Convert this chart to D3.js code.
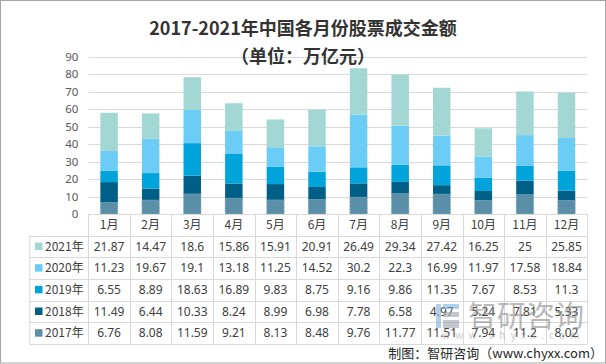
<!DOCTYPE html>
<html>
<head>
<meta charset="utf-8">
<script src="https://cdn.jsdelivr.net/npm/d3@7"></script>
<style>
	body { margin: 0; background: #fff; }
	svg { display: block; font-family: "Noto Sans CJK SC", "Noto Sans", sans-serif; }
</style>
</head>
<body>
<div id="chart"></div>
<script>
///////////////////////////////////////////////////////////////////////////
///////////////////// Initiate global variables ///////////////////////////
///////////////////////////////////////////////////////////////////////////

var width = 606,
	height = 364,
	margin = {left: 88.3, right: 18.7, top: 56.7, bottom: 150};

//Months along the x axis
var months = ["1月","2月","3月","4月","5月","6月","7月","8月","9月","10月","11月","12月"];

//Series per year (万亿元)
var years = ["2021年", "2020年", "2019年", "2018年", "2017年"];
var values2021 = [21.87, 14.47, 18.6, 15.86, 15.91, 20.91, 26.49, 29.34, 27.42, 16.25, 25, 25.85],
	values2020 = [11.23, 19.67, 19.1, 13.18, 11.25, 14.52, 30.2, 22.3, 16.99, 11.97, 17.58, 18.84],
	values2019 = [6.55, 8.89, 18.63, 16.89, 9.83, 8.75, 9.16, 9.86, 11.35, 7.67, 8.53, 11.3],
	values2018 = [11.49, 6.44, 10.33, 8.24, 8.99, 6.98, 7.78, 6.58, 4.97, 5.24, 7.81, 5.33],
	values2017 = [6.76, 8.08, 11.59, 9.21, 8.13, 8.48, 9.76, 11.77, 11.51, 7.94, 11.2, 8.02];
var yTicks = [0, 10, 20, 30, 40, 50, 60, 70, 80, 90];

var yearColors = {"2021年": "#A2D7D4", "2020年": "#6BCDF5", "2019年": "#00A3DA", "2018年": "#005F86", "2017年": "#5B8FA8"};

//Rows of the table are 2021 -> 2017, stacking goes bottom up 2017 -> 2021
var seriesByYear = {"2021年": values2021, "2020年": values2020, "2019年": values2019, "2018年": values2018, "2017年": values2017};
var stackOrder = years.slice().reverse();

var tableData = months.map(function(m, i) {
	var row = {month: m};
	years.forEach(function(y) { row[y] = seriesByYear[y][i]; });
	return row;
});

var svg = d3.select("#chart").append("svg")
	.attr("width", width)
	.attr("height", height);

//Outer frame
svg.append("rect")
	.attr("x", 0.5).attr("y", 0.5)
	.attr("width", width - 1).attr("height", height - 1.5)
	.style("fill", "none")
	.style("stroke", "#A6A6A6");

///////////////////////////////////////////////////////////////////////////
///////////////////////////// Scales and grid /////////////////////////////
///////////////////////////////////////////////////////////////////////////

var plotBottom = 214,
	plotRight = width - margin.right;

var x = d3.scaleBand()
	.domain(months)
	.range([margin.left, plotRight])
	.paddingInner(0.58)
	.paddingOuter(0.29);

var y = d3.scaleLinear()
	.domain([0, 90])
	.range([plotBottom, margin.top]);

//Gridlines
svg.append("g")
	.attr("class", "grid")
	.selectAll("line")
	.data(yTicks)
	.enter().append("line")
	.attr("x1", margin.left)
	.attr("x2", plotRight)
	.attr("y1", function(d) { return Math.round(y(d)) + 0.5; })
	.attr("y2", function(d) { return Math.round(y(d)) + 0.5; })
	.style("stroke", "#D9D9D9")
	.style("stroke-width", 1);

//Y axis labels
var yAxis = svg.append("g")
	.attr("transform", "translate(" + (margin.left - 10) + ",0)")
	.call(d3.axisLeft(y).tickValues(yTicks).tickSize(0).tickPadding(0));
yAxis.select(".domain").remove();
yAxis.selectAll("text")
	.style("font-family", "'Noto Sans', sans-serif")
	.style("font-size", "11.5px")
	.attr("fill", "#595959");

///////////////////////////////////////////////////////////////////////////
/////////////////////////////// Stacked bars //////////////////////////////
///////////////////////////////////////////////////////////////////////////

var stacked = d3.stack().keys(stackOrder)(tableData);

var layers = svg.append("g")
	.selectAll(".layer")
	.data(stacked)
	.enter().append("g")
	.attr("class", "layer")
	.style("fill", function(d) { return yearColors[d.key]; });

layers.selectAll("rect")
	.data(function(d) { return d.map(function(v) { return {key: d.key, v: v}; }); })
	.enter().append("rect")
	.attr("x", function(d) { return x(d.v.data.month); })
	.attr("width", x.bandwidth())
	.attr("y", function(d) { return y(d.v[1]); })
	.attr("height", function(d) { return y(d.v[0]) - y(d.v[1]); })
	.style("stroke", function(d) { return d.key === "2017年" ? "#86AFC4" : "none"; })
	.style("stroke-width", 0.8)
	.style("stroke-dasharray", "2,1.5");

///////////////////////////////////////////////////////////////////////////
////////////////////////////// Data table /////////////////////////////////
///////////////////////////////////////////////////////////////////////////

var rowH = 21.67,
	tableLeft = 29.3,
	tableTop = plotBottom,
	tableBottom = tableTop + rowH * (years.length + 1),
	step = x.step();

var table = svg.append("g").attr("class", "table");

//Horizontal lines
table.append("line")
	.attr("x1", margin.left).attr("x2", plotRight)
	.attr("y1", tableTop + 0.5).attr("y2", tableTop + 0.5)
	.style("stroke", "#D9D9D9");
table.selectAll(".hline")
	.data(d3.range(1, years.length + 2))
	.enter().append("line")
	.attr("class", "hline")
	.attr("x1", tableLeft).attr("x2", plotRight)
	.attr("y1", function(d) { return Math.round(tableTop + d * rowH) + 0.5; })
	.attr("y2", function(d) { return Math.round(tableTop + d * rowH) + 0.5; })
	.style("stroke", "#D9D9D9");

//Vertical lines
table.selectAll(".vline")
	.data(d3.range(0, months.length + 1))
	.enter().append("line")
	.attr("class", "vline")
	.attr("x1", function(d) { return Math.round(margin.left + d * step) + 0.5; })
	.attr("x2", function(d) { return Math.round(margin.left + d * step) + 0.5; })
	.attr("y1", tableTop)
	.attr("y2", tableBottom)
	.style("stroke", "#D9D9D9");
table.append("line")
	.attr("x1", tableLeft + 0.5).attr("x2", tableLeft + 0.5)
	.attr("y1", tableTop + rowH).attr("y2", tableBottom)
	.style("stroke", "#D9D9D9");

//Month header
table.selectAll(".monthLabel")
	.data(months)
	.enter().append("text")
	.attr("class", "monthLabel")
	.attr("x", function(d) { return x(d) + x.bandwidth() / 2; })
	.attr("y", tableTop + rowH / 2)
	.attr("dy", ".35em")
	.style("text-anchor", "middle")
	.style("font-size", "12px")
	.attr("fill", "#404040")
	.text(function(d) { return d; });

//One row per year
var rows = table.selectAll(".yearRow")
	.data(years)
	.enter().append("g")
	.attr("class", "yearRow")
	.attr("transform", function(d, i) { return "translate(0," + (tableTop + (i + 1) * rowH) + ")"; });

rows.append("rect")
	.attr("x", 35)
	.attr("y", rowH / 2 - 4)
	.attr("width", 7.5)
	.attr("height", 7.5)
	.style("fill", function(d) { return yearColors[d]; });

rows.append("text")
	.attr("x", 45)
	.attr("y", rowH / 2)
	.attr("dy", ".35em")
	.style("font-size", "12px")
	.attr("fill", "#404040")
	.text(function(d) { return d; });

rows.selectAll(".cell")
	.data(function(d) { return seriesByYear[d].map(function(v, i) { return {v: v, m: months[i]}; }); })
	.enter().append("text")
	.attr("class", "cell")
	.attr("x", function(d) { return x(d.m) + x.bandwidth() / 2; })
	.attr("y", rowH / 2)
	.attr("dy", ".35em")
	.style("text-anchor", "middle")
	.style("font-family", "'Noto Sans', sans-serif")
	.style("font-size", "12px")
	.attr("fill", "#404040")
	.text(function(d) { return d.v; });

///////////////////////////////////////////////////////////////////////////
///////////////////////// Title, source, watermark ////////////////////////
///////////////////////////////////////////////////////////////////////////

svg.append("text")
	.attr("x", width / 2)
	.attr("y", 35)
	.style("text-anchor", "middle")
	.style("font-size", "18px")
	.style("font-weight", "bold")
	.attr("fill", "#333333")
	.text("2017-2021年中国各月份股票成交金额");
svg.append("text")
	.attr("x", width / 2)
	.attr("y", 63)
	.style("text-anchor", "middle")
	.style("font-size", "18px")
	.style("font-weight", "bold")
	.attr("fill", "#333333")
	.text("（单位：万亿元）");

//Watermark logo, sits over the table like in the source image
var mark = svg.append("g").style("opacity", 0.6);
mark.append("rect").attr("x", 436).attr("y", 304).attr("width", 5).attr("height", 24).style("fill", "#7FB3D9");
mark.append("rect").attr("x", 443).attr("y", 304).attr("width", 16).attr("height", 5).style("fill", "#7FB3D9");
mark.append("rect").attr("x", 443).attr("y", 312).attr("width", 16).attr("height", 5).style("fill", "#9AA5AE");
mark.append("rect").attr("x", 443).attr("y", 320).attr("width", 16).attr("height", 8).style("fill", "#9AA5AE");
mark.append("text")
	.attr("x", 468).attr("y", 327)
	.style("font-size", "29px")
	.attr("fill", "#8C8C8C")
	.text("智研咨询");
mark.append("text")
	.attr("x", 442).attr("y", 339)
	.style("font-size", "10px")
	.style("letter-spacing", "5.2px")
	.attr("fill", "#A6A6A6")
	.text("www.chyxx.com");

//Source
svg.append("text")
	.attr("x", 603)
	.attr("y", 358)
	.style("text-anchor", "end")
	.style("font-size", "13px")
	.attr("fill", "#262626")
	.text("制图：智研咨询（www.chyxx.com）");
</script>
</body>
</html>
